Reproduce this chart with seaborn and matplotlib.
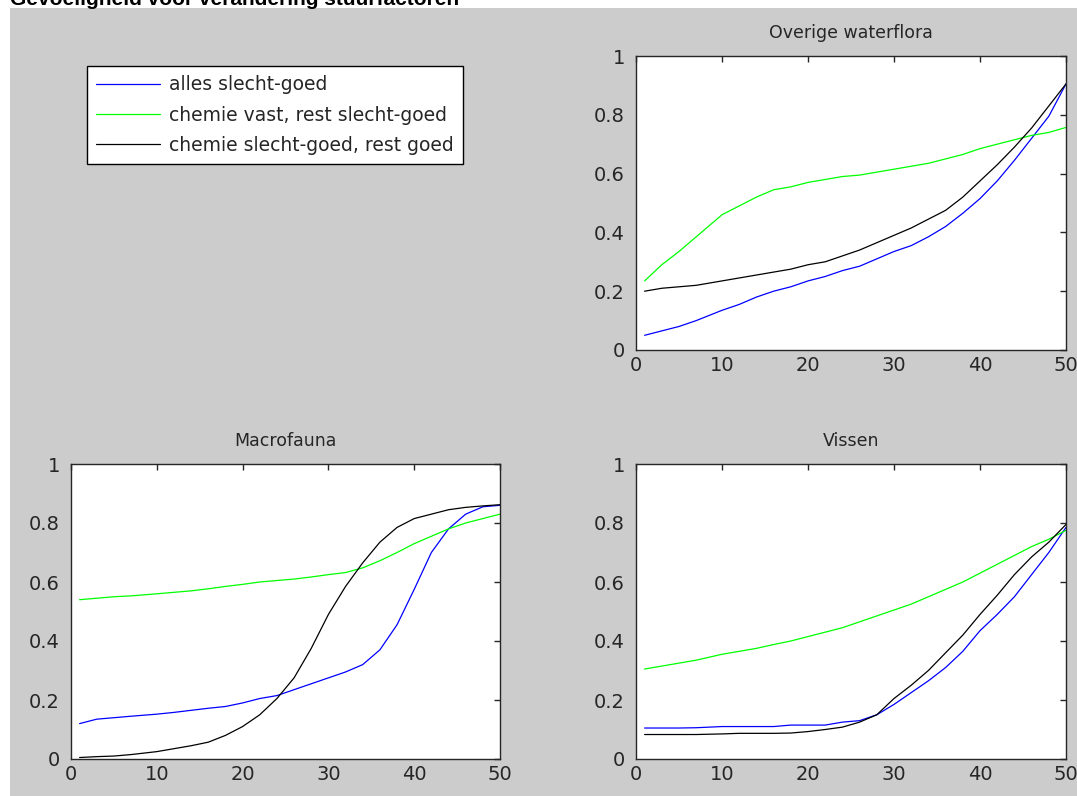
import numpy as np
import pandas as pd
import matplotlib
matplotlib.use("Agg")
import matplotlib.pyplot as plt
from matplotlib.patches import Rectangle
import seaborn as sns

# x positions (sampled) shared by all panels
x = [1, 3, 5, 7, 10, 12, 14, 16, 18, 20, 22, 24, 26, 28, 30, 32, 34, 36, 38, 40, 42, 44, 46, 48, 50]

labels = ["alles slecht-goed", "chemie vast, rest slecht-goed", "chemie slecht-goed, rest goed"]
colors = ["#0000ff", "#00ff00", "#000000"]

# Overige waterflora
flora_blue = [0.05, 0.065, 0.08, 0.10, 0.135, 0.155, 0.18, 0.20, 0.215, 0.235, 0.25, 0.27, 0.285,
              0.31, 0.335, 0.355, 0.385, 0.42, 0.465, 0.515, 0.575, 0.645, 0.72, 0.795, 0.905]
flora_green = [0.235, 0.29, 0.335, 0.385, 0.46, 0.49, 0.52, 0.545, 0.555, 0.57, 0.58, 0.59, 0.595,
               0.605, 0.615, 0.625, 0.635, 0.65, 0.665, 0.685, 0.70, 0.715, 0.73, 0.74, 0.757]
flora_black = [0.20, 0.21, 0.215, 0.22, 0.235, 0.245, 0.255, 0.265, 0.275, 0.29, 0.30, 0.32, 0.34,
               0.365, 0.39, 0.415, 0.445, 0.475, 0.52, 0.575, 0.63, 0.69, 0.755, 0.83, 0.905]

# Macrofauna
macro_blue = [0.12, 0.135, 0.14, 0.145, 0.152, 0.158, 0.165, 0.172, 0.178, 0.19, 0.205, 0.215, 0.235,
              0.255, 0.275, 0.295, 0.32, 0.37, 0.455, 0.575, 0.70, 0.78, 0.83, 0.855, 0.86]
macro_green = [0.54, 0.545, 0.55, 0.553, 0.56, 0.565, 0.57, 0.577, 0.585, 0.592, 0.60, 0.605, 0.61,
               0.617, 0.625, 0.632, 0.648, 0.672, 0.70, 0.73, 0.755, 0.78, 0.80, 0.815, 0.83]
macro_black = [0.005, 0.008, 0.01, 0.015, 0.025, 0.035, 0.045, 0.057, 0.08, 0.11, 0.15, 0.205, 0.275,
               0.375, 0.49, 0.585, 0.665, 0.735, 0.785, 0.815, 0.83, 0.845, 0.853, 0.858, 0.862]

# Vissen
vis_blue = [0.105, 0.105, 0.105, 0.106, 0.11, 0.11, 0.11, 0.11, 0.115, 0.115, 0.115, 0.125, 0.13,
            0.15, 0.185, 0.225, 0.265, 0.31, 0.365, 0.435, 0.49, 0.55, 0.625, 0.70, 0.785]
vis_green = [0.305, 0.315, 0.325, 0.335, 0.355, 0.365, 0.375, 0.388, 0.40, 0.415, 0.43, 0.445, 0.465,
             0.485, 0.505, 0.525, 0.55, 0.575, 0.60, 0.63, 0.66, 0.69, 0.72, 0.745, 0.775]
vis_black = [0.083, 0.083, 0.083, 0.083, 0.085, 0.087, 0.087, 0.087, 0.088, 0.093, 0.10, 0.108, 0.125,
             0.15, 0.205, 0.25, 0.30, 0.36, 0.42, 0.49, 0.555, 0.625, 0.685, 0.735, 0.795]

panels = [
    ("Overige waterflora", [flora_blue, flora_green, flora_black], [636, 56, 1066, 350]),
    ("Macrofauna", [macro_blue, macro_green, macro_black], [71, 464, 500, 759]),
    ("Vissen", [vis_blue, vis_green, vis_black], [636, 464, 1066, 759]),
]

sns.set_theme(style="white")
plt.rcParams["font.family"] = ["DejaVu Sans"]

W, H = 1077, 796
fig = plt.figure(figsize=(W / 100, H / 100), dpi=100, facecolor="white")
fig.patches.append(Rectangle((10 / W, 0), 1 - 10 / W, 1 - 8 / H, transform=fig.transFigure,
                             facecolor="#cccccc", edgecolor="none", zorder=-10))
# figure title, cropped at the top edge like in the reference
fig.text(10 / W, 1 - 5 / H, "Gevoeligheid voor verandering stuurfactoren",
         fontsize=15, fontweight="bold", family=["Liberation Sans", "DejaVu Sans"],
         va="baseline", ha="left", color="black")

dark = "#262626"
first_ax = None
for title, series, (l, t, r, b) in panels:
    ax = fig.add_axes([l / W, 1 - b / H, (r - l) / W, (b - t) / H])
    ax.set_facecolor("white")
    for vals, lab, col in zip(series, labels, colors):
        sns.lineplot(x=x, y=vals, color=col, linewidth=0.9, ax=ax, label=lab)
    if ax.get_legend() is not None:
        ax.get_legend().remove()
    ax.set_xlim(0, 50)
    ax.set_ylim(0, 1)
    ax.set_xticks([0, 10, 20, 30, 40, 50])
    ax.set_yticks([0, 0.2, 0.4, 0.6, 0.8, 1])
    ax.set_yticklabels(["0", "0.2", "0.4", "0.6", "0.8", "1"])
    ax.tick_params(axis="both", direction="in", length=4, width=1, colors=dark,
                   labelsize=14, top=True, right=True)
    ax.tick_params(axis="y", pad=8)
    ax.tick_params(axis="x", pad=4)
    for s in ax.spines.values():
        s.set_color(dark)
        s.set_linewidth(1)
    ax.set_title(title, fontsize=12.5, color=dark, pad=13)
    if first_ax is None:
        first_ax = ax

handles, lbls = first_ax.get_legend_handles_labels()
leg = fig.legend(handles, lbls, loc="upper left", bbox_to_anchor=(87 / W, 1 - 66 / H),
                 bbox_transform=fig.transFigure, borderaxespad=0, fontsize=13.5,
                 frameon=True, fancybox=False, framealpha=1, edgecolor="black",
                 facecolor="white", handlelength=3.4, handletextpad=0.45,
                 labelspacing=0.6, borderpad=0.5)
leg.get_frame().set_linewidth(1)
for txt in leg.get_texts():
    txt.set_color(dark)

fig.savefig("out.png", dpi=100, facecolor=fig.get_facecolor())
